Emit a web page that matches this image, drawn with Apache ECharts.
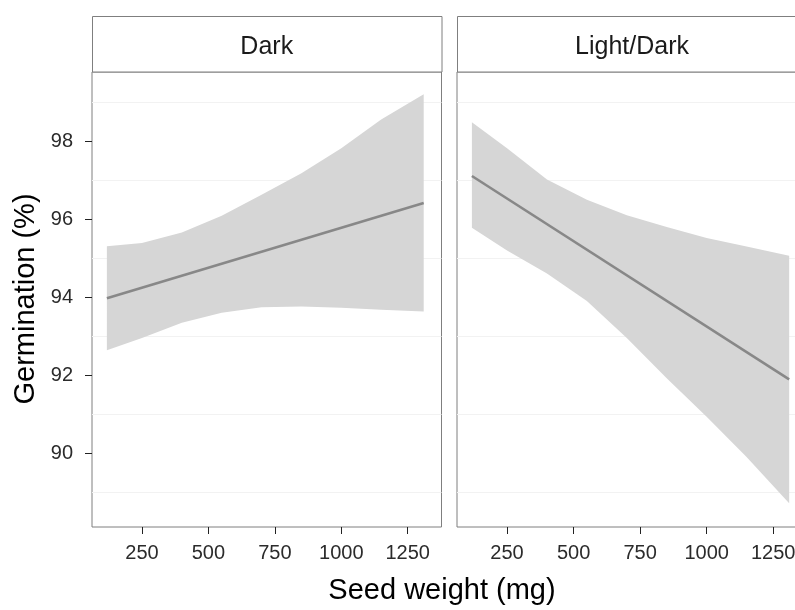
<!DOCTYPE html>
<html>
<head>
<meta charset="utf-8">
<script src="https://cdn.jsdelivr.net/npm/echarts@6/dist/echarts.min.js"></script>
<style>
html,body{margin:0;padding:0;background:#fff;}
#chart{width:795px;height:610px;}
</style>
</head>
<body>
<div id="chart"></div>
<script>
// ---- data ----
const panels = ['Dark', 'Light/Dark'];
const xTicks = [250, 500, 750, 1000, 1250];
const yTicks = [90, 92, 94, 96, 98];
const yMinorGrid = [89, 91, 93, 95, 97, 99];

const bandX = [118, 250, 400, 550, 700, 850, 1000, 1150, 1310];
const darkUpper = [95.31, 95.39, 95.66, 96.09, 96.63, 97.18, 97.82, 98.56, 99.21];
const darkLower = [92.64, 92.95, 93.34, 93.60, 93.74, 93.76, 93.73, 93.68, 93.63];
const lightUpper = [98.49, 97.82, 97.02, 96.50, 96.10, 95.80, 95.52, 95.30, 95.06];
const lightLower = [95.78, 95.20, 94.61, 93.90, 92.95, 91.92, 90.93, 89.90, 88.71];

const lineX = [118, 1310];
const darkFit = [93.97, 96.42];
const lightFit = [97.11, 91.89];

// ---- build ----
const FONT = 'Liberation Sans, Arial, sans-serif';
const BORDER = '#7f7f7f';
const BAND = '#d6d6d6';
const LINE = '#888888';
const TEXT = '#2b2b2b';

function pairs(xs, ys) { return xs.map((x, i) => [x, ys[i]]); }

const grids = [
  {left: 92, top: 72, width: 349.5, height: 455},
  {left: 457, top: 72, width: 350, height: 455}
];

const chart = echarts.init(document.getElementById('chart'), null, {renderer: 'canvas'});

const series = [];
const bands = [[darkUpper, darkLower, darkFit], [lightUpper, lightLower, lightFit]];
bands.forEach((b, i) => {
  const upper = b[0], lower = b[1];
  // faint minor gridlines
  series.push({
    type: 'line', xAxisIndex: i, yAxisIndex: i, z: 0, silent: true,
    data: [], symbol: 'none',
    markLine: {
      silent: true, symbol: 'none', label: {show: false}, z: 0,
      lineStyle: {color: '#f2f2f2', width: 1, type: 'solid'},
      data: yMinorGrid.map(v => ({yAxis: v}))
    }
  });
  // confidence band as polygon through the axes
  series.push({
    type: 'custom', xAxisIndex: i, yAxisIndex: i, z: 3, silent: true,
    data: bandX.map((x, k) => [x, upper[k], lower[k]]),
    encode: {x: 0, y: [1, 2]},
    renderItem: function (params, api) {
      if (params.dataIndex !== 0) return null;
      const pts = [];
      for (let k = 0; k < bandX.length; k++) pts.push(api.coord([bandX[k], upper[k]]));
      for (let k = bandX.length - 1; k >= 0; k--) pts.push(api.coord([bandX[k], lower[k]]));
      return {type: 'polygon', shape: {points: pts}, style: {fill: BAND, stroke: null}};
    }
  });
  // fitted line
  series.push({
    type: 'line', xAxisIndex: i, yAxisIndex: i, z: 4, silent: true,
    symbol: 'none',
    lineStyle: {width: 2.6, color: LINE},
    data: pairs(lineX, b[2])
  });
});

const graphics = [];
grids.forEach((g, i) => {
  graphics.push({
    type: 'rect', silent: true,
    shape: {x: g.left + 0.5, y: 16.5, width: g.width, height: 55.5},
    style: {fill: '#ffffff', stroke: BORDER, lineWidth: 1}
  });
  graphics.push({
    type: 'text', silent: true,
    x: g.left + g.width / 2, y: 47,
    style: {text: panels[i], align: 'center', verticalAlign: 'middle',
            font: '25px ' + FONT, fill: '#1a1a1a'}
  });
});
graphics.push({
  type: 'text', silent: true, x: 442, y: 591,
  style: {text: 'Seed weight (mg)', align: 'center', verticalAlign: 'middle',
          font: '29px ' + FONT, fill: '#000'}
});
graphics.push({
  type: 'text', silent: true, x: 26, y: 299, rotation: Math.PI / 2,
  style: {text: 'Germination (%)', align: 'center', verticalAlign: 'middle',
          font: '29px ' + FONT, fill: '#000'}
});

chart.setOption({
  animation: false,
  backgroundColor: '#ffffff',
  grid: grids.map(g => Object.assign({show: true, borderColor: BORDER, borderWidth: 1,
                                       backgroundColor: '#ffffff',
                                       outerBoundsMode: 'none', containLabel: false}, g)),
  xAxis: grids.map((g, i) => ({
    gridIndex: i, type: 'value', min: 62, max: 1377,
    axisLine: {show: false},
    axisTick: {show: true, customValues: xTicks, length: 7, lineStyle: {color: '#222', width: 1}},
    axisLabel: {show: true, customValues: xTicks, margin: 16, fontSize: 20,
                color: TEXT, fontFamily: FONT, formatter: v => String(v)},
    splitLine: {show: false}
  })),
  yAxis: grids.map((g, i) => ({
    gridIndex: i, type: 'value', min: 88.1, max: 99.78,
    axisLine: {show: false},
    axisTick: {show: i === 0, customValues: yTicks, length: 7, lineStyle: {color: '#222', width: 1}},
    axisLabel: {show: i === 0, customValues: yTicks, margin: 19, fontSize: 20,
                color: TEXT, fontFamily: FONT, formatter: v => String(v)},
    splitLine: {show: false}
  })),
  series: series,
  graphic: graphics
});
</script>
</body>
</html>
